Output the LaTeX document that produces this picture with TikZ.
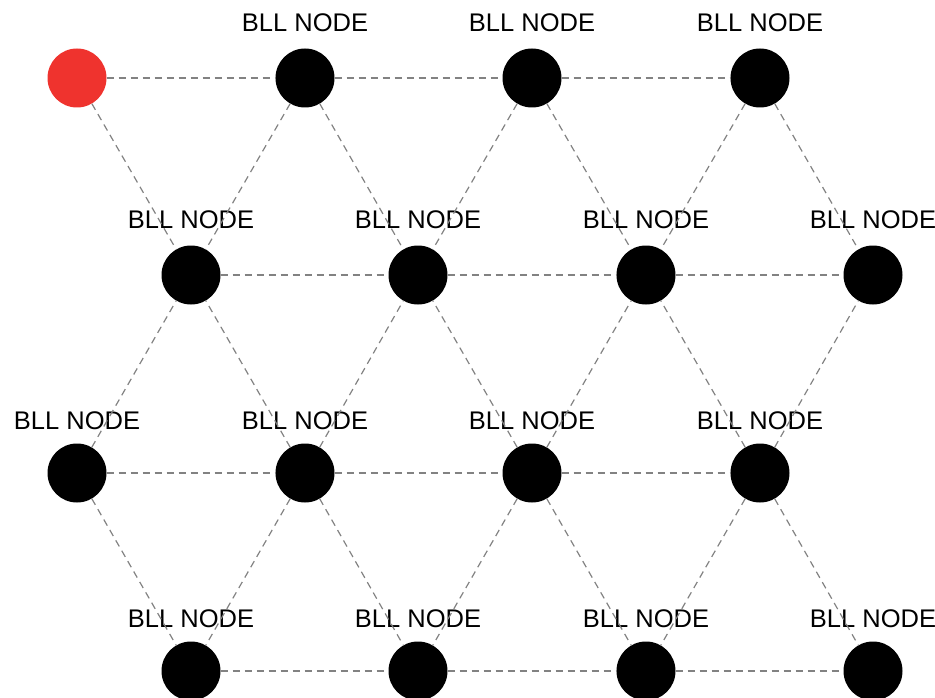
\documentclass[tikz,border=0pt]{standalone}
\usepackage{fontspec}
\setmainfont{Liberation Sans}
\begin{document}
\begin{tikzpicture}[x=1pt,y=-1pt,
  bll/.style={circle,fill=black,minimum size=59pt,inner sep=0pt},
  start/.style={circle,fill={rgb,255:red,239;green,51;blue,46},minimum size=59pt,inner sep=0pt},
  lbl/.style={font=\fontsize{25.5}{27}\selectfont,inner sep=0pt,anchor=center},
  edge/.style={draw={rgb,255:red,130;green,130;blue,130},line width=1.2pt,dash pattern=on 7pt off 5pt}]
\useasboundingbox (0,0) rectangle (935,698);
% labels
\foreach \x/\n in {305/a1,532/a2,760/a3}{\node[lbl] (l\n) at (\x,23) {BLL NODE};}
\foreach \x/\n in {191/b0,418/b1,646/b2,873/b3}{\node[lbl] (l\n) at (\x,220) {BLL NODE};}
\foreach \x/\n in {77/c0,305/c1,532/c2,760/c3}{\node[lbl] (l\n) at (\x,421) {BLL NODE};}
\foreach \x/\n in {191/d0,418/d1,646/d2,873/d3}{\node[lbl] (l\n) at (\x,619) {BLL NODE};}
% nodes
\node[start] (a0) at (77,78) {};
\node[bll] (a1) at (305,78) {};
\node[bll] (a2) at (532,78) {};
\node[bll] (a3) at (760,78) {};
\node[bll] (b0) at (191,275) {};
\node[bll] (b1) at (418,275) {};
\node[bll] (b2) at (646,275) {};
\node[bll] (b3) at (873,275) {};
\node[bll] (c0) at (77,473) {};
\node[bll] (c1) at (305,473) {};
\node[bll] (c2) at (532,473) {};
\node[bll] (c3) at (760,473) {};
\node[bll] (d0) at (191,671) {};
\node[bll] (d1) at (418,671) {};
\node[bll] (d2) at (646,671) {};
\node[bll] (d3) at (873,671) {};
% horizontal edges
\foreach \r in {a,b,c,d}{
  \draw[edge] (\r0) -- (\r1);
  \draw[edge] (\r1) -- (\r2);
  \draw[edge] (\r2) -- (\r3);
}
% diagonals between even row (a,c) and odd rows (b,d)
\foreach \u/\v in {a/b,c/b,c/d}{
  \draw[edge] (\u0) -- (\v0);
  \draw[edge] (\u1) -- (\v0);
  \draw[edge] (\u1) -- (\v1);
  \draw[edge] (\u2) -- (\v1);
  \draw[edge] (\u2) -- (\v2);
  \draw[edge] (\u3) -- (\v2);
  \draw[edge] (\u3) -- (\v3);
}
\end{tikzpicture}
\end{document}
